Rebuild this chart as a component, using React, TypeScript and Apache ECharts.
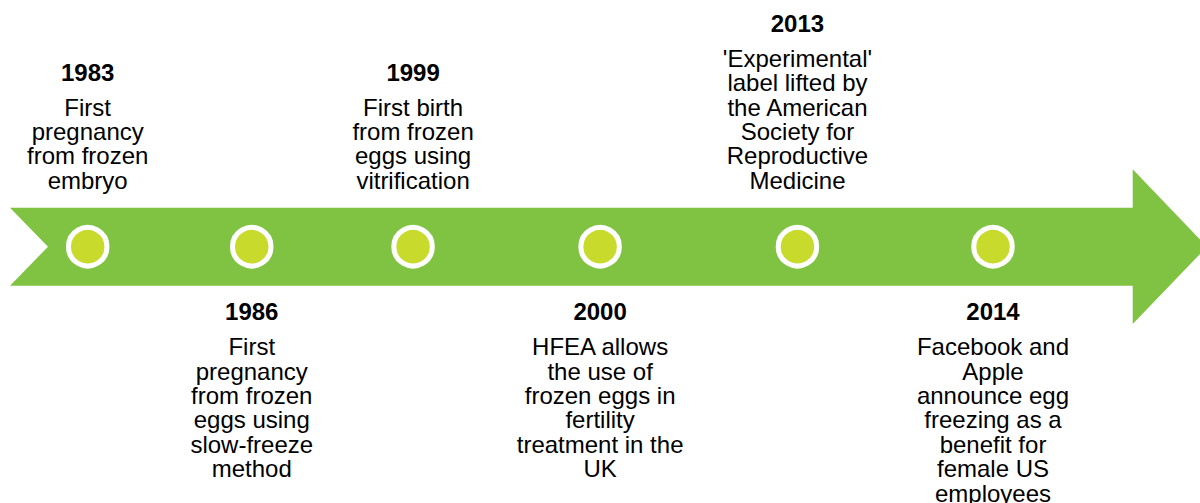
import React, { useEffect, useRef } from "react";
import * as echarts from "echarts";

const years = ["1983", "1986", "1999", "2000", "2013", "2014"];
// position of each milestone along the timeline (timeline units)
const timelinePos = [0, 0.906, 1.797, 2.83, 3.92, 5];
const descriptions: string[][] = [
  ["First", "pregnancy", "from frozen", "embryo"],
  ["First", "pregnancy", "from frozen", "eggs using", "slow-freeze", "method"],
  ["First birth", "from frozen", "eggs using", "vitrification"],
  ["HFEA allows", "the use of", "frozen eggs in", "fertility", "treatment in the", "UK"],
  ["'Experimental'", "label lifted by", "the American", "Society for", "Reproductive", "Medicine"],
  ["Facebook and", "Apple", "announce egg", "freezing as a", "benefit for", "female US", "employees"],
];
const sides = ["top", "bottom", "top", "bottom", "top", "bottom"];

const GREEN = "#80C342";
const DOT = "#C8DA2C";
const FONT = "'Liberation Sans', Arial, sans-serif";

export default function App() {
  const ref = useRef<HTMLDivElement>(null);
  useEffect(() => {
    if (!ref.current) return;
    const chart = echarts.init(ref.current, null, { renderer: "svg" });
    const data = years.map((y, i) => ({
      value: [timelinePos[i], 0],
      label: {
        position: sides[i],
        distance: sides[i] === "top" ? 32.5 : 31,
        formatter:
          `{y|${y}}\n{s| }\n` + descriptions[i].map((l) => `{b|${l}}`).join("\n"),
      },
    }));
    chart.setOption({
      animation: false,
      grid: { left: 87.7, width: 905.3, top: 0, height: 493.4 },
      xAxis: { type: "value", min: 0, max: 5, show: false },
      yAxis: { type: "value", min: -1, max: 1, show: false },
      graphic: [
        {
          type: "polygon",
          z: -10,
          shape: {
            points: [
              [10, 207.7],
              [1132.7, 207.7],
              [1132.7, 169.3],
              [1207, 246.7],
              [1132.7, 324],
              [1132.7, 285.7],
              [10, 285.7],
              [48, 246.7],
            ],
          },
          style: { fill: GREEN },
        },
      ],
      series: [
        {
          type: "scatter",
          symbol: "circle",
          symbolSize: 38.5,
          z: 5,
          itemStyle: { color: DOT, borderColor: "#ffffff", borderWidth: 5, opacity: 1 },
          emphasis: { disabled: true },
          label: {
            show: true,
            align: "center",
            color: "#000",
            fontFamily: FONT,
            rich: {
              y: { fontFamily: FONT, fontWeight: "bold", fontSize: 24, lineHeight: 24.4, color: "#000", align: "center" },
              s: { fontFamily: FONT, fontSize: 6, lineHeight: 10.6, color: "#000", align: "center" },
              b: { fontFamily: FONT, fontSize: 24, lineHeight: 24.4, color: "#000", align: "center" },
            },
          },
          data,
        },
      ],
    });
    return () => chart.dispose();
  }, []);
  return <div ref={ref} style={{ width: 1200, height: 503, position: "absolute", left: 0, top: 0 }} />;
}
